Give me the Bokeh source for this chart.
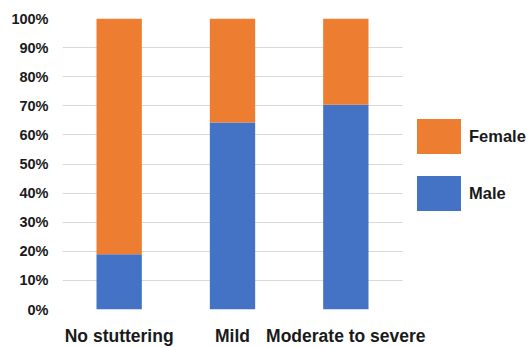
from bokeh.plotting import figure
from bokeh.models import (Legend, LegendItem, NumeralTickFormatter, FixedTicker,
                          Range1d)
from bokeh.embed import file_html
from bokeh.resources import INLINE

categories = ["No stuttering", "Mild", "Moderate to severe"]
male = [0.19, 0.643, 0.704]
female = [round(1 - m, 3) for m in male]
y_ticks = [i / 10 for i in range(11)]

colors = {"Male": "#4472C4", "Female": "#ED7D31"}
font = "Liberation Sans"
text_color = "#1a1a1a"

# categories placed at the centres of unit-wide slots; room on the right for the legend
x_pos = [i + 0.5 for i in range(len(categories))]
n = len(categories)

p = figure(width=528, height=348, output_backend="svg", toolbar_location=None,
           min_border_left=62, min_border_right=0,
           min_border_top=18, min_border_bottom=30)
p.x_range = Range1d(0, n * 466 / 340)
p.y_range = Range1d(0, 1)

source = dict(x=x_pos, Male=male, Female=female)
renderers = p.vbar_stack(["Male", "Female"], x="x", width=0.4, source=source,
                         color=[colors["Male"], colors["Female"]], line_color=None)

# axes
p.xaxis.ticker = FixedTicker(ticks=x_pos)
p.xaxis.major_label_overrides = {x: c for x, c in zip(x_pos, categories)}
p.yaxis.ticker = FixedTicker(ticks=y_ticks)
p.yaxis.formatter = NumeralTickFormatter(format="0%")
for ax in (p.xaxis[0], p.yaxis[0]):
    ax.axis_line_color = None
    ax.major_tick_line_color = None
    ax.minor_tick_line_color = None
    ax.major_label_text_font = font
    ax.major_label_text_font_style = "bold"
    ax.major_label_text_color = text_color
p.yaxis.major_label_text_font_size = "14.5px"
p.yaxis.major_label_standoff = 8
p.xaxis.major_label_text_font_size = "17.5px"
p.xaxis.major_label_standoff = 10

p.xgrid.grid_line_color = None
p.ygrid.grid_line_color = "#d9d9d9"
p.ygrid.cross_bounds = (0, n)
p.outline_line_color = None

# bar swatches are drawn inset by 10% of the glyph box
legend = Legend(items=[LegendItem(label="Female", renderers=[renderers[1]]),
                       LegendItem(label="Male", renderers=[renderers[0]])],
                location=(349, 94), orientation="vertical",
                glyph_width=55, glyph_height=44, spacing=13,
                padding=0, margin=0, label_standoff=3,
                label_text_font=font, label_text_font_style="bold",
                label_text_font_size="16.5px", label_text_color=text_color,
                border_line_color=None, background_fill_alpha=0)
p.add_layout(legend)

open("out.html", "w").write(file_html(p, INLINE))
